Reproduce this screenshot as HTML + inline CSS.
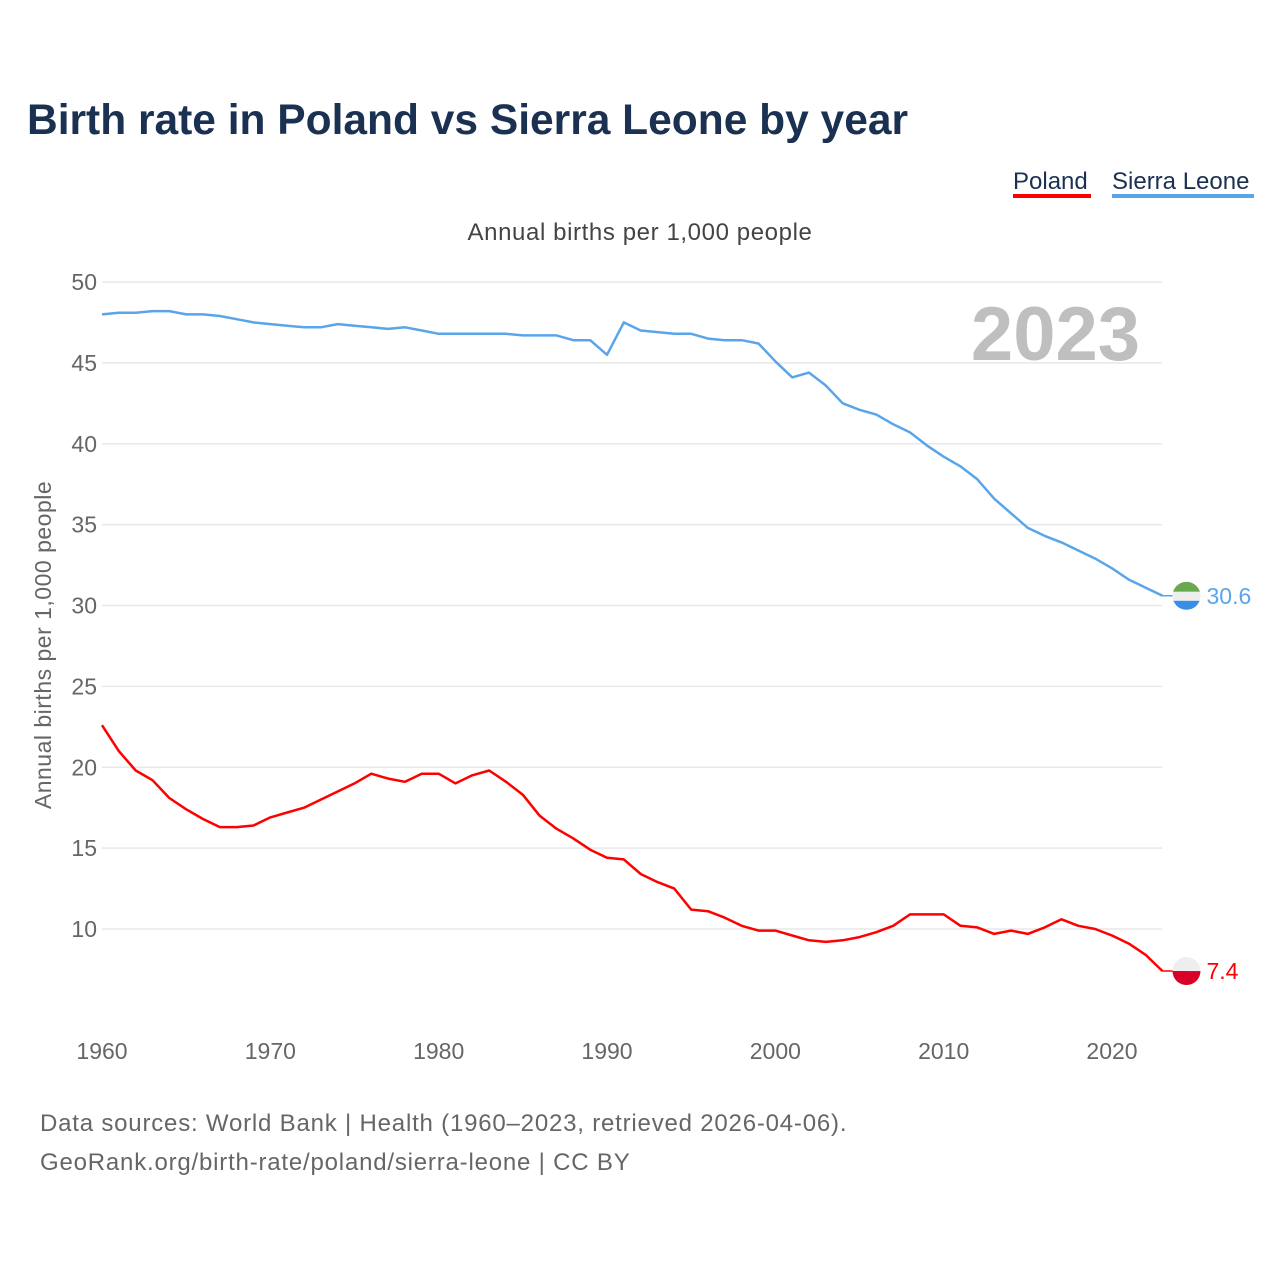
<!DOCTYPE html>
<html><head><meta charset="utf-8"><style>
body{margin:0;background:#fff;width:1280px;height:1280px;overflow:hidden;font-family:"Liberation Sans",sans-serif}
</style></head><body>
<svg width="1280" height="1280" xmlns="http://www.w3.org/2000/svg">
<text x="27" y="134" font-size="42.5" font-weight="bold" fill="#1b3152">Birth rate in Poland vs Sierra Leone by year</text>
<g>
<text x="1013" y="189" font-size="24" fill="#1b3152">Poland</text>
<rect x="1013" y="194" width="78" height="4" fill="#ff0000"/>
<text x="1112" y="189" font-size="24" fill="#1b3152">Sierra Leone</text>
<rect x="1112" y="194" width="142" height="4" fill="#5aa5ea"/>
</g>
<text x="640" y="240" font-size="24" letter-spacing="0.6" fill="#444" text-anchor="middle">Annual births per 1,000 people</text>
<text transform="translate(51,645) rotate(-90)" font-size="23" letter-spacing="0.5" fill="#666" text-anchor="middle">Annual births per 1,000 people</text>
<text x="1140" y="360" font-size="76" font-weight="bold" fill="#bfbfbf" text-anchor="end">2023</text>
<g id="grid"></g><g id="xt"></g><g id="lines"></g>
<text x="40" y="1131" font-size="24" letter-spacing="0.8" fill="#666">Data sources: World Bank | Health (1960–2023, retrieved 2026-04-06).</text>
<text x="40" y="1170" font-size="24" letter-spacing="0.8" fill="#666">GeoRank.org/birth-rate/poland/sierra-leone | CC BY</text>
</svg>
<script>
const years=[];for(let y=1960;y<=2023;y++)years.push(y);
const poland=[22.6,21.0,19.8,19.2,18.1,17.4,16.8,16.3,16.3,16.4,16.9,17.2,17.5,18.0,18.5,19.0,19.6,19.3,19.1,19.6,19.6,19.0,19.5,19.8,19.1,18.3,17.0,16.2,15.6,14.9,14.4,14.3,13.4,12.9,12.5,11.2,11.1,10.7,10.2,9.9,9.9,9.6,9.3,9.2,9.3,9.5,9.8,10.2,10.9,10.9,10.9,10.2,10.1,9.7,9.9,9.7,10.1,10.6,10.2,10.0,9.6,9.1,8.4,7.4];
const sierra=[48.0,48.1,48.1,48.2,48.2,48.0,48.0,47.9,47.7,47.5,47.4,47.3,47.2,47.2,47.4,47.3,47.2,47.1,47.2,47.0,46.8,46.8,46.8,46.8,46.8,46.7,46.7,46.7,46.4,46.4,45.5,47.5,47.0,46.9,46.8,46.8,46.5,46.4,46.4,46.2,45.1,44.1,44.4,43.6,42.5,42.1,41.8,41.2,40.7,39.9,39.2,38.6,37.8,36.6,35.7,34.8,34.3,33.9,33.4,32.9,32.3,31.6,31.1,30.6];
const yTicks=[10,15,20,25,30,35,40,45,50];
const xTicks=[1960,1970,1980,1990,2000,2010,2020];
const X=v=>102+(v-1960)*(1010/60);
const Y=v=>282+(50-v)*(647/40);
const NS="http://www.w3.org/2000/svg";
function mk(t,a,p,txt){const e=document.createElementNS(NS,t);for(const k in a)e.setAttribute(k,a[k]);if(txt!=null)e.textContent=txt;p.appendChild(e);return e;}
const grid=document.getElementById('grid'),xt=document.getElementById('xt'),lines=document.getElementById('lines');
yTicks.forEach(v=>{
 const l=mk('line',{x1:102,x2:1162,y1:Y(v),y2:Y(v),stroke:'#e8e8e8','stroke-width':1.5},grid);
 
 
 const t=mk('text',{x:97,y:Y(v)+8,'font-size':23,fill:'#666','text-anchor':'end'},grid,String(v));
 
 
});
xTicks.forEach(v=>{
 const t=mk('text',{x:X(v),y:1059,'font-size':23,fill:'#666','text-anchor':'middle'},xt,String(v));
 
 
});
function series(vals,color,name,flagTop,flagBot,flagTopCol){
 const pts=vals.map((v,i)=>X(years[i]).toFixed(1)+','+Y(v).toFixed(1)).join(' ');
 const pl=mk('polyline',{points:pts,fill:'none',stroke:color,'stroke-width':2.5,'stroke-linejoin':'round'},lines);
 
 
 const last=vals[vals.length-1],lx=X(years[years.length-1]),ly=Y(last),cx=lx+24;
 mk('line',{x1:lx,x2:cx,y1:ly,y2:ly,stroke:color,'stroke-width':1.5},lines);
 const g=mk('g',{},lines);
 
 
 const cp='clip-'+name;
 const c=mk('clipPath',{id:cp},g);mk('circle',{cx:cx,cy:ly,r:14},c);
 const gg=mk('g',{'clip-path':'url(#'+cp+')'},g);
 if(flagTopCol){mk('rect',{x:cx-14,y:ly-14,width:28,height:10,fill:flagTopCol},gg);mk('rect',{x:cx-14,y:ly-4,width:28,height:9,fill:flagTop},gg);mk('rect',{x:cx-14,y:ly+5,width:28,height:10,fill:flagBot},gg);}
 else{mk('rect',{x:cx-14,y:ly-14,width:28,height:14,fill:flagTop},gg);mk('rect',{x:cx-14,y:ly,width:28,height:14,fill:flagBot},gg);}
 const t=mk('text',{x:cx+20,y:ly+8,'font-size':23,fill:color},lines,String(last));
 
 
}
series(sierra,'#5aa5ea','sierra-leone','#eeeeee','#3a8ee6','#6aa84f');
series(poland,'#ff0000','poland','#eeeeee','#d80027');
</script>
</body></html>
